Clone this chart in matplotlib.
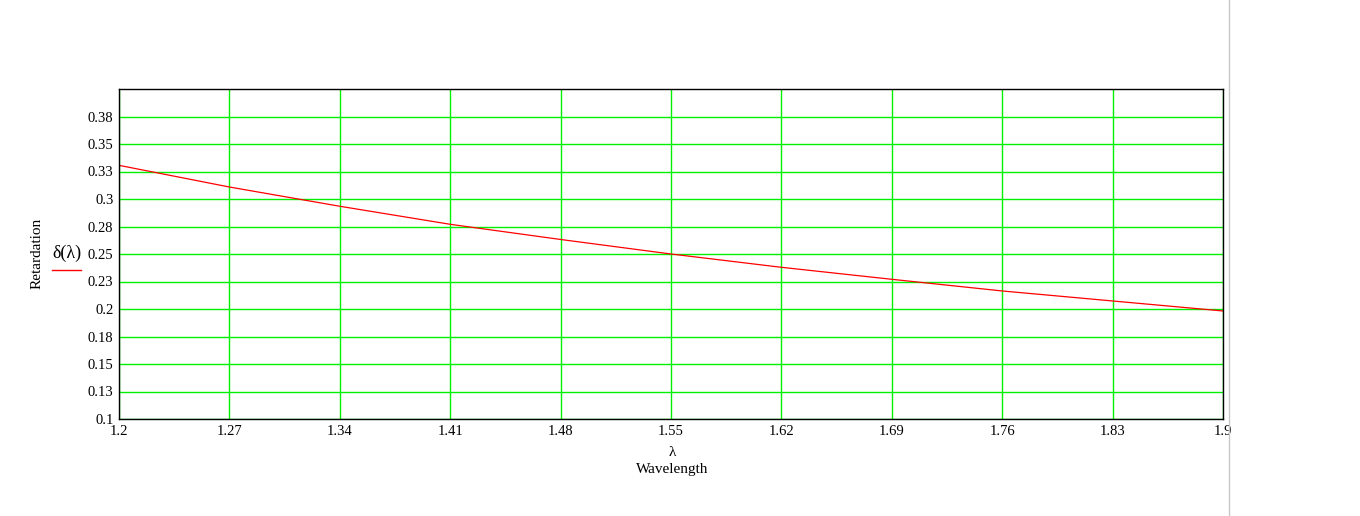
import matplotlib.pyplot as plt
from matplotlib.lines import Line2D

# wavelength (x) and retardation
wavelength = [1.2, 1.27, 1.34, 1.41, 1.48, 1.55, 1.62, 1.69, 1.76, 1.83, 1.9]
retardation = [0.3306, 0.3109, 0.2934, 0.2770, 0.2632, 0.2500, 0.2379, 0.2270, 0.2164, 0.2073, 0.1982]

x_ticks = [1.2, 1.27, 1.34, 1.41, 1.48, 1.55, 1.62, 1.69, 1.76, 1.83, 1.9]
x_labels = ["1.2", "1.27", "1.34", "1.41", "1.48", "1.55", "1.62", "1.69", "1.76", "1.83", "1.9"]
y_ticks = [0.1, 0.125, 0.15, 0.175, 0.2, 0.225, 0.25, 0.275, 0.3, 0.325, 0.35, 0.375]
y_labels = ["0.1", "0.13", "0.15", "0.18", "0.2", "0.23", "0.25", "0.28", "0.3", "0.33", "0.35", "0.38"]

plt.rcParams['font.family'] = ['Liberation Serif', 'DejaVu Serif']

fig = plt.figure(figsize=(13.6, 5.16), dpi=100)
ax = fig.add_axes([119 / 1360, 97 / 516, 1104 / 1360, 330 / 516])

ax.plot(wavelength, retardation, color="#ff0000", linewidth=0.9)

ax.set_xlim(1.2, 1.9)
ax.set_ylim(0.1, 0.4)
ax.set_xticks(x_ticks)
ax.set_xticklabels(x_labels)
ax.set_yticks(y_ticks)
ax.set_yticklabels(y_labels)
ax.tick_params(length=0, labelsize=10.5, pad=4)
ax.grid(True, color="#00f000", linewidth=1.0)
ax.set_axisbelow(True)
for s in ax.spines.values():
    s.set_color("black")
    s.set_linewidth(1.0)
    s.set_zorder(5)

# axis titles in the Mathcad style
fig.text(672 / 1360, 1 - 453 / 516, "λ", ha="center", va="center", fontsize=11)
fig.text(672 / 1360, 1 - 469 / 516, "Wavelength", ha="center", va="center", fontsize=11)
fig.text(37 / 1360, 1 - 253 / 516, "Retardation", ha="center", va="center", rotation=90, fontsize=11)
fig.text(67 / 1360, 1 - 253 / 516, "δ(λ)", ha="center", va="center", fontsize=13)
fig.add_artist(Line2D([52 / 1360, 81 / 1360], [1 - 270 / 516, 1 - 270 / 516], color="#ff0000", linewidth=1))

# grey page divider at the right
fig.add_artist(Line2D([1229 / 1360, 1229 / 1360], [0, 1], color="#c8c8c8", linewidth=1))

plt.savefig("out.png", dpi=100)
